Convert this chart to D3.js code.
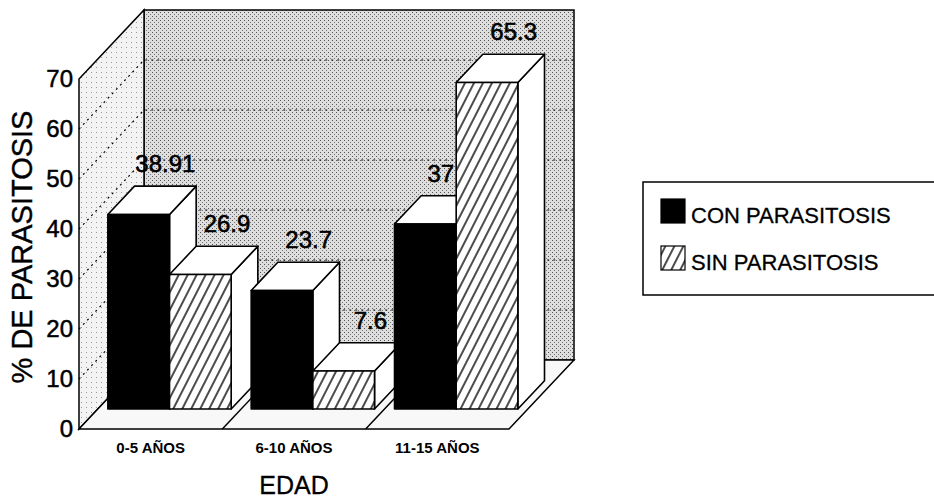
<!doctype html>
<html>

<head>
    <meta charset="UTF-8">
    <title>% de parasitosis por edad</title>
    <script src="https://d3js.org/d3.v7.min.js"></script>
    <style>
        body { margin: 0; background: #fff; }
        text { font-family: "Liberation Sans", Arial, sans-serif; fill: #000; }
    </style>
</head>

<body>
    <script>
        var categories = ["0-5 AÑOS", "6-10 AÑOS", "11-15 AÑOS"];
        var seriesNames = ["CON PARASITOSIS", "SIN PARASITOSIS"];
        var conParasitosis = [38.91, 23.7, 37];
        var sinParasitosis = [26.9, 7.6, 65.3];
        var yTicks = [0, 10, 20, 30, 40, 50, 60, 70];
        var gridTicks = [10, 20, 30, 40, 50, 60];

        var width = 934;
        var height = 498;

        // depth of the 3d box (screen offset of the back plane)
        var DX = 65, DY = 69;
        var zFront = 0.29, zBack = 0.70; // bars sit between these depths

        var x = d3.scaleBand().domain(categories).range([79, 509]);
        var xInner = d3.scaleBand().domain(seriesNames).range([10, x.bandwidth() - 10]);
        var y = d3.scaleLinear().domain([0, 70]).range([429, 79]);

        function px(xv, z) { return xv + z * DX; }
        function py(yv, z) { return yv - z * DY; }
        function pts(arr) { return arr.map(function (p) { return p.join(","); }).join(" "); }

        var svg = d3.select("body").append("svg")
            .attr("width", width)
            .attr("height", height);

        var defs = svg.append("defs");
        var hatch = defs.append("pattern").attr("id", "hatch")
            .attr("width", 8).attr("height", 8)
            .attr("patternUnits", "userSpaceOnUse")
            .attr("patternTransform", "rotate(27)");
        hatch.append("rect").attr("width", 8).attr("height", 8).attr("fill", "#fff");
        hatch.append("line").attr("x1", 4).attr("x2", 4).attr("y1", 0).attr("y2", 8)
            .attr("stroke", "#000").attr("stroke-width", 1.4);

        var tone = defs.append("pattern").attr("id", "tone")
            .attr("width", 4).attr("height", 4).attr("patternUnits", "userSpaceOnUse");
        tone.append("rect").attr("width", 4).attr("height", 4).attr("fill", "#dedede");
        tone.append("rect").attr("width", 1).attr("height", 1).attr("fill", "#555");
        tone.append("rect").attr("x", 2).attr("y", 2).attr("width", 1).attr("height", 1).attr("fill", "#777");

        var light = defs.append("pattern").attr("id", "light")
            .attr("width", 5).attr("height", 5).attr("patternUnits", "userSpaceOnUse");
        light.append("rect").attr("width", 5).attr("height", 5).attr("fill", "#f3f3f3");
        light.append("rect").attr("x", 1).attr("y", 2).attr("width", 1).attr("height", 1).attr("fill", "#999");

        var x0 = x.range()[0], x1 = x.range()[1];
        var yBot = y(0), yTop = y(70);

        // walls and floor
        svg.append("rect")
            .attr("x", px(x0, 1)).attr("y", py(yTop, 1))
            .attr("width", x1 - x0).attr("height", yBot - yTop)
            .attr("fill", "url(#tone)").attr("stroke", "#000").attr("stroke-width", 1.5);
        svg.append("polygon")
            .attr("points", pts([[x0, yTop], [px(x0, 1), py(yTop, 1)], [px(x0, 1), py(yBot, 1)], [x0, yBot]]))
            .attr("fill", "url(#light)").attr("stroke", "#000").attr("stroke-width", 1.5);
        svg.append("polygon")
            .attr("points", pts([[x0, yBot], [x1, yBot], [px(x1, 1), py(yBot, 1)], [px(x0, 1), py(yBot, 1)]]))
            .attr("fill", "#f8f8f8").attr("stroke", "#000").attr("stroke-width", 1.5);

        // grid lines on the left and back walls
        svg.append("g").selectAll("path").data(gridTicks).join("path")
            .attr("d", function (d) {
                return "M" + x0 + "," + y(d) + "L" + px(x0, 1) + "," + py(y(d), 1) +
                    "L" + px(x1, 1) + "," + py(y(d), 1);
            })
            .attr("fill", "none").attr("stroke", "#000").attr("stroke-width", 1.2)
            .attr("stroke-dasharray", "2,4");

        // floor dividers between categories
        svg.append("g").selectAll("line").data(categories.slice(1)).join("line")
            .attr("x1", function (d) { return x(d); }).attr("y1", yBot)
            .attr("x2", function (d) { return px(x(d), 1); }).attr("y2", py(yBot, 1))
            .attr("stroke", "#000").attr("stroke-width", 1.5);

        // bars, drawn left to right so each one hides the side of the previous
        var bars = [];
        categories.forEach(function (c, i) {
            bars.push({ cat: c, s: seriesNames[0], v: conParasitosis[i], fill: "#000", next: sinParasitosis[i] });
            bars.push({ cat: c, s: seriesNames[1], v: sinParasitosis[i], fill: "url(#hatch)", next: null });
        });

        bars.forEach(function (b) {
            var bx0 = x(b.cat) + xInner(b.s), bx1 = bx0 + xInner.bandwidth();
            var top = y(b.v), bot = y(0);
            var g = svg.append("g").attr("stroke", "#000").attr("stroke-width", 1.6).attr("stroke-linejoin", "round");
            g.append("polygon") // side
                .attr("points", pts([[px(bx1, zFront), py(top, zFront)], [px(bx1, zBack), py(top, zBack)],
                    [px(bx1, zBack), py(bot, zBack)], [px(bx1, zFront), py(bot, zFront)]]))
                .attr("fill", "#fff");
            g.append("polygon") // top
                .attr("points", pts([[px(bx0, zFront), py(top, zFront)], [px(bx1, zFront), py(top, zFront)],
                    [px(bx1, zBack), py(top, zBack)], [px(bx0, zBack), py(top, zBack)]]))
                .attr("fill", "#fff");
            g.append("rect") // front
                .attr("x", px(bx0, zFront)).attr("y", py(top, zFront))
                .attr("width", bx1 - bx0).attr("height", bot - top)
                .attr("fill", b.fill);
            // label sits centred over the back edge of the top face
            b.cx = (px(bx0, zBack) + px(bx1, zBack)) / 2;
            b.ty = py(top, zBack) - 14;
            b.limit = px(bx1, zFront) - 2;
        });

        // value labels
        bars.forEach(function (b) {
            var t = svg.append("text")
                .attr("x", b.cx).attr("y", b.ty)
                .attr("text-anchor", "middle")
                .style("font-size", "24px")
                .style("stroke", "#000").style("stroke-width", 0.6)
                .text(String(b.v));
            // keep label clear of a taller bar standing next to it
            if (b.next !== null && b.next > b.v) {
                var w = t.node().getComputedTextLength();
                if (b.cx + w / 2 > b.limit) t.attr("x", b.limit - w / 2);
            }
        });

        // axes
        var yAxis = svg.append("g")
            .attr("transform", "translate(" + x0 + ",0)")
            .call(d3.axisLeft(y).tickValues(yTicks).tickSize(0).tickPadding(6));
        yAxis.select(".domain").remove();
        yAxis.selectAll("text").style("font-size", "24px")
            .style("font-family", "Liberation Sans, Arial, sans-serif")
            .style("stroke", "#000").style("stroke-width", 0.5);

        var xAxis = svg.append("g")
            .attr("transform", "translate(0," + yBot + ")")
            .call(d3.axisBottom(x).tickSize(0).tickPadding(13));
        xAxis.select(".domain").remove();
        xAxis.selectAll("text").style("font-size", "15px").style("font-weight", "bold")
            .style("font-family", "Liberation Sans, Arial, sans-serif");

        svg.append("text")
            .attr("x", (x0 + x1) / 2).attr("y", 494)
            .attr("text-anchor", "middle")
            .style("font-size", "25px")
            .style("stroke", "#000").style("stroke-width", 0.3)
            .text("EDAD");

        svg.append("text")
            .attr("transform", "translate(32,247) rotate(-90)")
            .attr("text-anchor", "middle")
            .style("font-size", "29px")
            .style("stroke", "#000").style("stroke-width", 0.4)
            .text("% DE PARASITOSIS");

        // legend
        var legend = svg.append("g");
        legend.append("rect")
            .attr("x", 643).attr("y", 182).attr("width", 320).attr("height", 113)
            .attr("fill", "#fff").attr("stroke", "#000").attr("stroke-width", 1.5);
        var items = legend.selectAll("g.item").data(seriesNames).join("g")
            .attr("class", "item")
            .attr("transform", function (d, i) { return "translate(661," + (199 + i * 47) + ")"; });
        items.append("rect")
            .attr("width", 24).attr("height", 24)
            .attr("fill", function (d, i) { return i === 0 ? "#000" : "url(#hatch)"; })
            .attr("stroke", "#000").attr("stroke-width", 1.2);
        items.append("text")
            .attr("x", 30).attr("y", 24)
            .style("font-size", "22px")
            .style("stroke", "#000").style("stroke-width", 0.3)
            .text(function (d) { return d; });
    </script>
</body>

</html>
